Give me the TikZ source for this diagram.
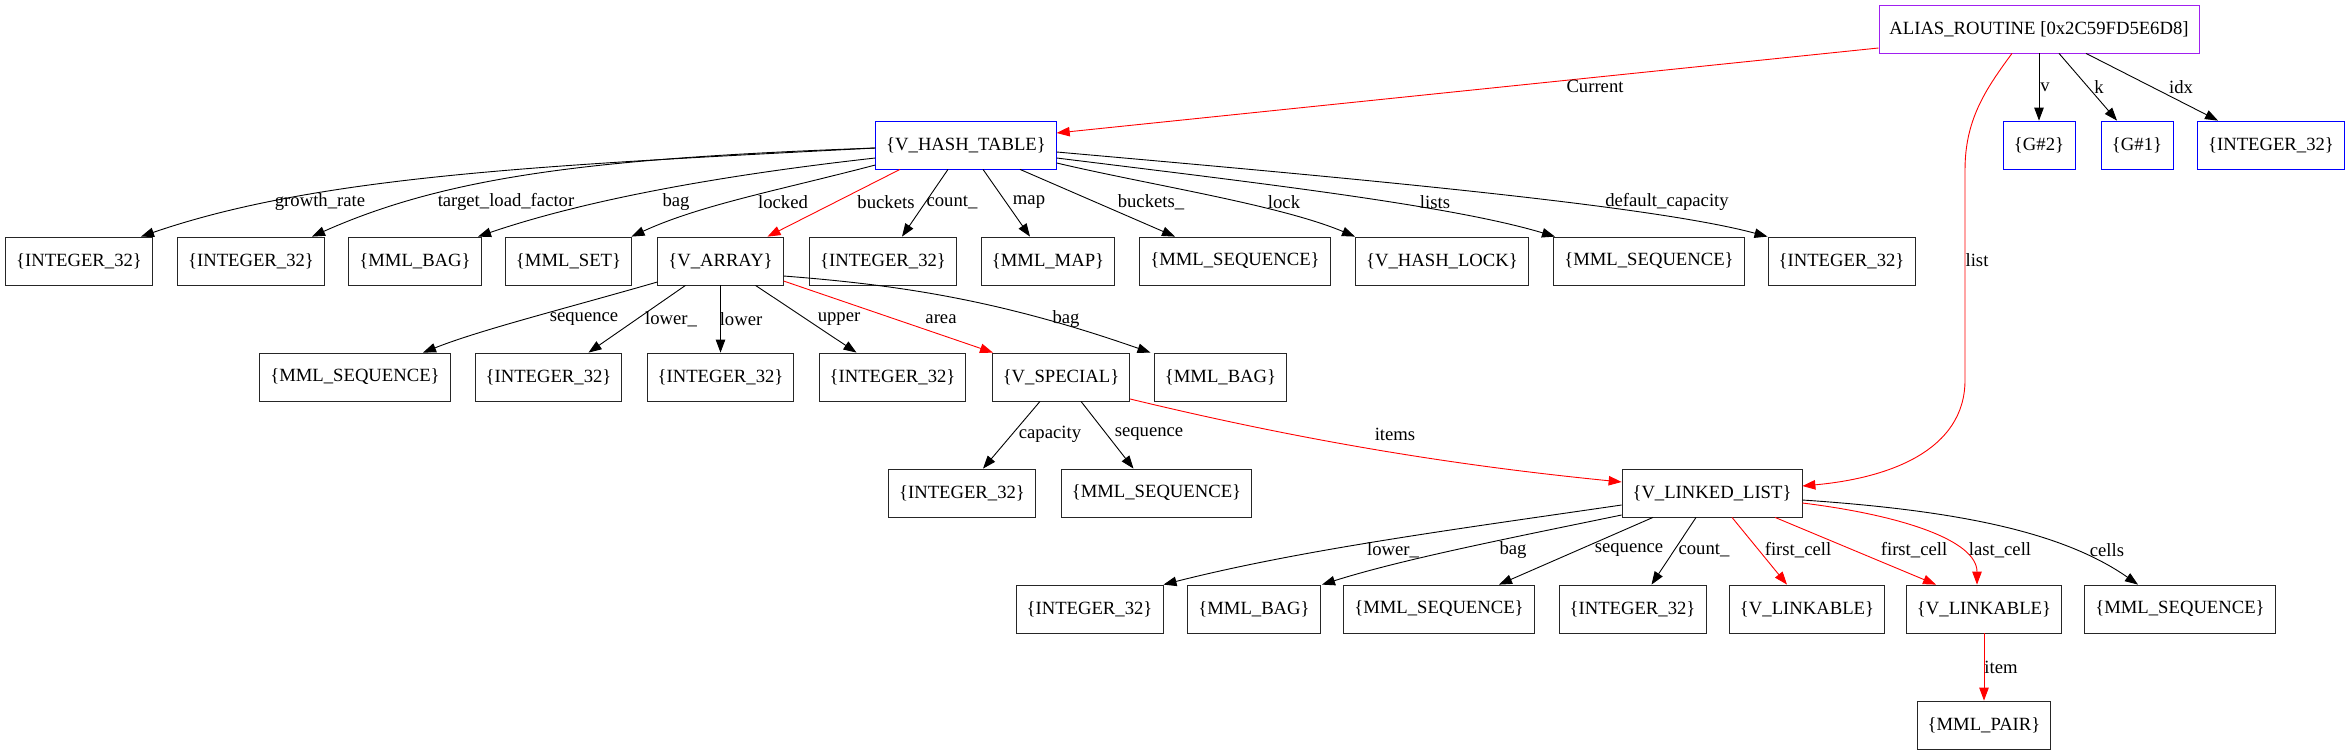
\documentclass[tikz,border=0pt]{standalone}
\usepackage{fontspec}
\setmainfont{Liberation Serif}
\usetikzlibrary{arrows.meta}

\definecolor{gvpurple}{RGB}{160,32,240}

\begin{document}
\begin{tikzpicture}[x=1pt, y=-1pt, >={Triangle[length=13pt,width=9.5pt]},
  every node/.style={font=\fontsize{18.67}{22}\selectfont},
  obj/.style={draw=black!85, line width=0.8pt, rectangle, minimum height=48pt, minimum width=72pt, inner xsep=10.5pt, inner ysep=0pt},
  ent/.style={obj, draw=blue},
  root/.style={obj, draw=gvpurple},
  ref/.style={->, line width=0.9pt, black},
  hot/.style={->, line width=0.9pt, red},
  lbl/.style={inner sep=0pt}]
  \useasboundingbox (0,0) rectangle (2351,755);

  % Root object
  \node[root] (alias) at (2039,29) {ALIAS\_ROUTINE [0x2C59FD5E6D8]};
  \node[ent] (g2) at (2039,145) {\{G\#2\}};
  \node[ent] (g1) at (2137,145) {\{G\#1\}};
  \node[ent] (aint) at (2271,145) {\{INTEGER\_32\}};

  % Hash table and its fields
  \node[ent] (htable) at (966,145) {\{V\_HASH\_TABLE\}};
  \node[obj] (hgrowth) at (79,261) {\{INTEGER\_32\}};
  \node[obj] (hload) at (251,261) {\{INTEGER\_32\}};
  \node[obj] (hbag) at (415,261) {\{MML\_BAG\}};
  \node[obj] (hset) at (568.5,261) {\{MML\_SET\}};
  \node[obj] (varray) at (720.5,261) {\{V\_ARRAY\}};
  \node[obj] (hcount) at (883,261) {\{INTEGER\_32\}};
  \node[obj] (hmap) at (1048,261) {\{MML\_MAP\}};
  \node[obj] (hbseq) at (1235,261) {\{MML\_SEQUENCE\}};
  \node[obj] (hlock) at (1442,261) {\{V\_HASH\_LOCK\}};
  \node[obj] (hlseq) at (1649,261) {\{MML\_SEQUENCE\}};
  \node[obj] (hdefcap) at (1841.5,261) {\{INTEGER\_32\}};

  % Array fields
  \node[obj] (vseq) at (355,377) {\{MML\_SEQUENCE\}};
  \node[obj] (vlowu) at (548.5,377) {\{INTEGER\_32\}};
  \node[obj] (vlow) at (720.5,377) {\{INTEGER\_32\}};
  \node[obj] (vup) at (892.5,377) {\{INTEGER\_32\}};
  \node[obj] (vspec) at (1061,377) {\{V\_SPECIAL\}};
  \node[obj] (vbag) at (1220.5,377) {\{MML\_BAG\}};

  % Special area
  \node[obj] (scap) at (962,493) {\{INTEGER\_32\}};
  \node[obj] (sseq) at (1156.5,493) {\{MML\_SEQUENCE\}};
  \node[obj] (llist) at (1712,493) {\{V\_LINKED\_LIST\}};

  % Linked list fields
  \node[obj] (lint) at (1089.5,609) {\{INTEGER\_32\}};
  \node[obj] (lbag) at (1254,609) {\{MML\_BAG\}};
  \node[obj] (lseq) at (1439,609) {\{MML\_SEQUENCE\}};
  \node[obj] (lcount) at (1632.5,609) {\{INTEGER\_32\}};
  \node[obj] (link1) at (1807,609) {\{V\_LINKABLE\}};
  \node[obj] (link2) at (1984,609) {\{V\_LINKABLE\}};
  \node[obj] (lcells) at (2180,609) {\{MML\_SEQUENCE\}};
  \node[obj] (pair) at (1984,725) {\{MML\_PAIR\}};

  % Root edges
  \draw[hot] ([yshift=-19pt]alias.west) -- ([yshift=12pt]htable.east);
  \node[lbl] (lcur) at (1595,86) {Current};
  \draw[ref] (alias.south) -- (g2.north);
  \node[lbl] (lv) at (2045,87) {v};
  \draw[ref] ([xshift=20pt]alias.south) -- ([xshift=-20pt]g1.north);
  \node[lbl] (lk) at (2099,87) {k};
  \draw[ref] ([xshift=47pt]alias.south) -- ([xshift=-53pt]aint.north);
  \node[lbl] (lidx) at (2181,87) {idx};
  \draw[hot] ([xshift=-27pt]alias.south) .. controls (1985,90) and (1965,120) .. (1965,170)
    -- (1965,380) .. controls (1965,450) and (1890,478) .. ([yshift=7pt]llist.east);
  \node[lbl] (llst) at (1977,260) {list};

  % Hash table edges
  \draw[ref] ([yshift=-3pt]htable.west) .. controls (550,165) and (320,175) .. ([xshift=62pt]hgrowth.north);
  \node[lbl] (lgrowth) at (320,202) {growth\_rate};
  \draw[ref] ([yshift=-3pt]htable.west) .. controls (600,158) and (450,175) .. ([xshift=61pt]hload.north);
  \node[lbl] (lload) at (506,202) {target\_load\_factor};
  \draw[ref] ([yshift=-13pt]htable.west) .. controls (750,172) and (600,195) .. ([xshift=63pt]hbag.north);
  \node[lbl] (lhbag) at (676,202) {bag};
  \draw[ref] ([yshift=-20pt]htable.west) .. controls (780,190) and (700,205) .. ([xshift=63pt]hset.north);
  \node[lbl] (llocked) at (783,202) {locked};
  \draw[hot] ([xshift=-66pt]htable.south) -- ([xshift=47pt]varray.north);
  \node[lbl] (lbuck) at (886,202) {buckets};
  \draw[ref] ([xshift=-18pt]htable.south) -- ([xshift=19pt]hcount.north);
  \node[lbl] (lhcount) at (952,202) {count\_};
  \draw[ref] ([xshift=17pt]htable.south) -- ([xshift=-18pt]hmap.north);
  \node[lbl] (lmap) at (1029,202) {map};
  \draw[ref] ([xshift=54pt]htable.south) -- ([xshift=-60pt]hbseq.north);
  \node[lbl] (lbuckb) at (1151,202) {buckets\_};
  \draw[ref] ([yshift=-18pt]htable.east) .. controls (1150,185) and (1280,205) .. ([xshift=-87pt]hlock.north);
  \node[lbl] (llock) at (1284,202) {lock};
  \draw[ref] ([yshift=-13pt]htable.east) .. controls (1250,182) and (1450,205) .. ([xshift=-94pt]hlseq.north);
  \node[lbl] (llists) at (1435,202) {lists};
  \draw[ref] ([yshift=-7pt]htable.east) .. controls (1350,178) and (1650,205) .. ([xshift=-74pt]hdefcap.north);
  \node[lbl] (ldefcap) at (1667,202) {default\_capacity};

  % Array edges
  \draw[ref] ([yshift=-21pt]varray.west) .. controls (560,310) and (480,330) .. ([xshift=68pt]vseq.north);
  \node[lbl] (lvseq) at (584,319) {sequence};
  \draw[ref] ([xshift=-35pt]varray.south) -- ([xshift=40pt]vlowu.north);
  \node[lbl] (lvlowu) at (671,319) {lower\_};
  \draw[ref] (varray.south) -- (vlow.north);
  \node[lbl] (lvlow) at (741,319) {lower};
  \draw[ref] ([xshift=35pt]varray.south) -- ([xshift=-36pt]vup.north);
  \node[lbl] (lvup) at (839,319) {upper};
  \draw[hot] ([yshift=-20pt]varray.east) -- ([xshift=-68pt]vspec.north);
  \node[lbl] (larea) at (941,319) {area};
  \draw[ref] ([yshift=-15pt]varray.east) .. controls (900,285) and (1000,300) .. ([xshift=-70pt]vbag.north);
  \node[lbl] (lvbag) at (1066,319) {bag};

  % Special edges
  \draw[ref] ([xshift=-21pt]vspec.south) -- ([xshift=21pt]scap.north);
  \node[lbl] (lscap) at (1050,434) {capacity};
  \draw[ref] ([xshift=20pt]vspec.south) -- ([xshift=-23pt]sseq.north);
  \node[lbl] (lsseq) at (1149,434) {sequence};
  \draw[hot] ([yshift=-22pt]vspec.east) .. controls (1300,440) and (1450,465) .. ([yshift=11pt]llist.west);
  \node[lbl] (litems) at (1395,434) {items};

  % Linked list edges
  \draw[ref] ([yshift=-12pt]llist.west) .. controls (1450,530) and (1300,550) .. ([xshift=74pt]lint.north);
  \node[lbl] (llint) at (1393,550) {lower\_};
  \draw[ref] ([yshift=-22pt]llist.west) .. controls (1500,540) and (1400,560) .. ([xshift=68pt]lbag.north);
  \node[lbl] (llbag) at (1513,550) {bag};
  \draw[ref] ([xshift=-59pt]llist.south) -- ([xshift=60pt]lseq.north);
  \node[lbl] (llseq) at (1629,550) {sequence};
  \draw[ref] ([xshift=-16pt]llist.south) -- ([xshift=19pt]lcount.north);
  \node[lbl] (llcount) at (1704,550) {count\_};
  \draw[hot] ([xshift=20pt]llist.south) -- ([xshift=-20pt]link1.north);
  \node[lbl] (lfirsta) at (1798,550) {first\_cell};
  \draw[hot] ([xshift=63pt]llist.south) -- ([xshift=-48pt]link2.north);
  \node[lbl] (lfirstb) at (1914,550) {first\_cell};
  \draw[hot] ([yshift=-10pt]llist.east) .. controls (1900,515) and (1977,540) .. ([xshift=-7pt]link2.north);
  \node[lbl] (llast) at (2000,550) {last\_cell};
  \draw[ref] ([yshift=-7pt]llist.east) .. controls (1950,510) and (2060,530) .. ([xshift=-42pt]lcells.north);
  \node[lbl] (lcellsl) at (2107,550) {cells};
  \draw[hot] (link2.south) -- (pair.north);
  \node[lbl] (litem) at (2001,667) {item};
\end{tikzpicture}
\end{document}
